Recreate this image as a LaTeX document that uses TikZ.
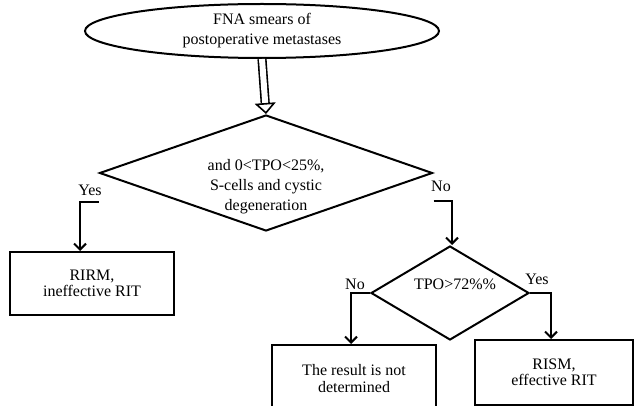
\documentclass[tikz,border=0pt]{standalone}
\usepackage{fontspec}
\setmainfont{Liberation Serif}
\usetikzlibrary{shapes.geometric, arrows.meta, positioning}

\tikzset{
  startstop/.style={ellipse, draw, line width=2pt, minimum width=354pt, minimum height=54pt, inner sep=0pt, align=center, font=\fontsize{16pt}{20pt}\selectfont},
  decision/.style={diamond, draw, line width=2pt, inner sep=0pt},
  outcome/.style={rectangle, draw, line width=2pt, inner sep=0pt, align=center, font=\fontsize{16pt}{16pt}\selectfont},
  flow/.style={line width=2pt, -{Straight Barb[length=6pt, width=12pt, line width=2pt]}},
  hollow/.style={double, double distance=6pt, line width=1.6pt, -{Triangle[open, length=11pt, width=21pt, line width=1.6pt]}},
  lbl/.style={inner sep=0pt, font=\fontsize{16pt}{18pt}\selectfont},
}

\begin{document}
\begin{tikzpicture}[x=1pt, y=-1pt]
\useasboundingbox (0,0) rectangle (635,406);

\node[startstop] (fna) at (262,31) {FNA smears of\\postoperative metastases};

% first check
\node[decision, minimum width=333pt, minimum height=116pt] (d1) at (266,173) {};
\node[lbl, align=center, font=\fontsize{16pt}{20pt}\selectfont] (d1txt) at (266,187) {and 0<TPO<25\%,\\S-cells and cystic\\degeneration};

\node[outcome, minimum width=164pt, minimum height=63pt] (rirm) at (92,283.5) {RIRM,\\ineffective RIT};

% second check
\node[decision, minimum width=158pt, minimum height=94pt] (d2) at (450,293) {};
\node[lbl] (d2txt) at (455,284) {TPO>72\%\%};

\node[outcome, minimum width=164pt, minimum height=67pt, font=\fontsize{16pt}{17pt}\selectfont] (undet) at (354,378.5) {The result is not\\determined};
\node[outcome, minimum width=158pt, minimum height=65pt] (rism) at (554,372.5) {RISM,\\effective RIT};

\draw[hollow] (fna.south) -- (d1.north);

\draw[flow] ([yshift=-29pt]d1.west) -| ([xshift=-12pt]rirm.north);
\draw[flow] ([yshift=-28pt]d1.east) -| ([xshift=2pt]d2.north);
\draw[flow] (d2.west) -| ([xshift=-3pt]undet.north);
\draw[flow] (d2.east) -| ([xshift=-3pt]rism.north);

% branch labels
\node[lbl] (yes1) at (90,190) {Yes};
\node[lbl] (no1) at (441,186) {No};
\node[lbl] (no2) at (355,284) {No};
\node[lbl] (yes2) at (537,279) {Yes};
\end{tikzpicture}
\end{document}
